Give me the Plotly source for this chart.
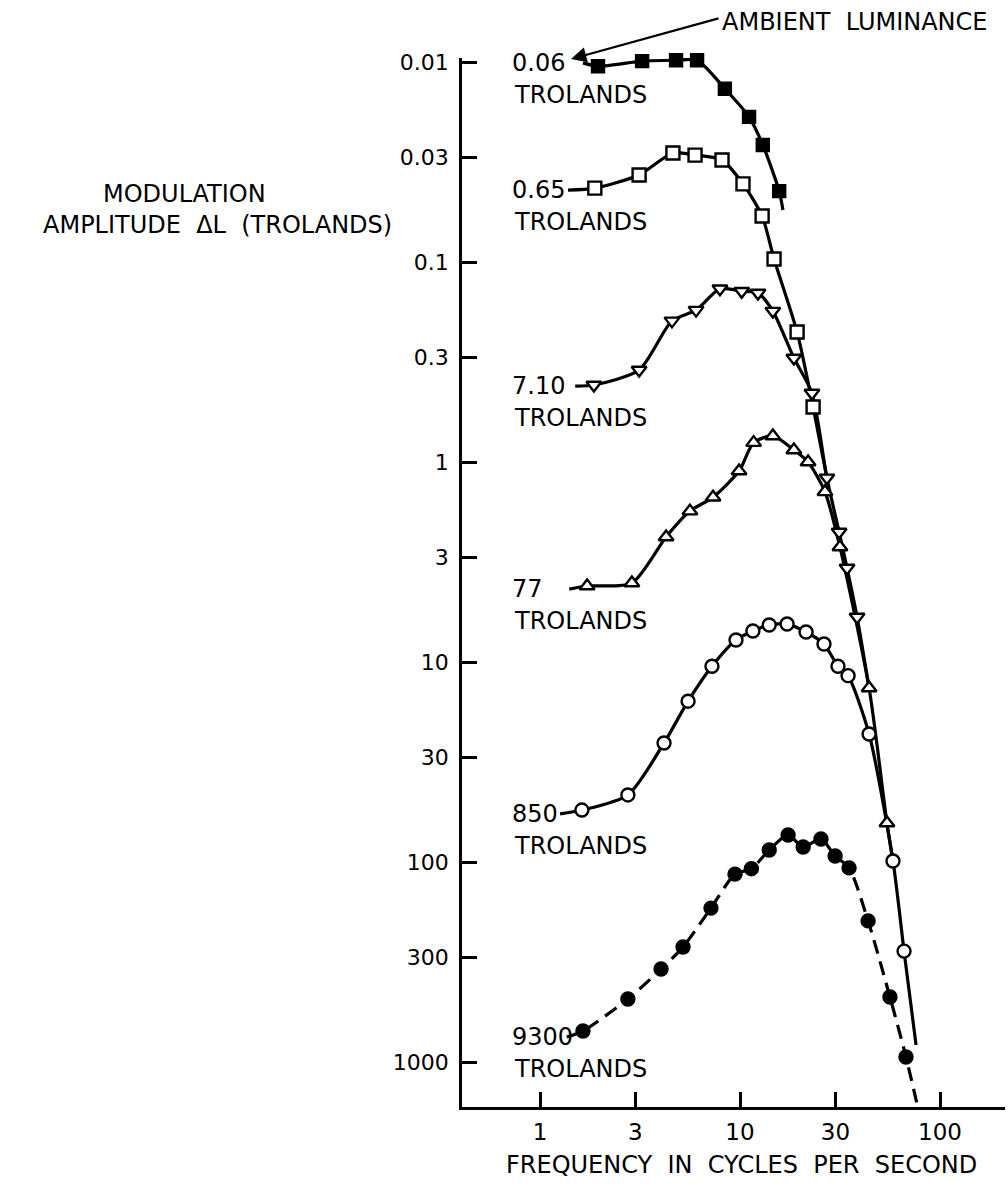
import math
import plotly.graph_objects as go

# ---------------- data ----------------
labels = ["0.06", "0.65", "7.10", "77", "850", "9300"]

freq_006 = [1.95, 3.24, 4.79, 6.1, 8.4, 11.1, 13.0, 15.7]
amp_006 = [0.0105, 0.0099, 0.0098, 0.0098, 0.0136, 0.0188, 0.026, 0.0442]

freq_065 = [1.88, 3.13, 4.62, 5.96, 8.13, 10.35, 12.9, 14.8, 19.3, 23.2]
amp_065 = [0.0427, 0.0367, 0.0285, 0.0292, 0.0309, 0.0407, 0.0589, 0.0966, 0.224, 0.531]

freq_710 = [1.86, 3.13, 4.57, 6.03, 7.94, 10.2, 12.3, 14.6, 18.6, 22.9, 27.2, 31.3, 34.3, 38.5]
amp_710 = [0.412, 0.347, 0.197, 0.174, 0.136, 0.140, 0.143, 0.176, 0.302, 0.452, 1.20, 2.24, 3.39, 5.96]

freq_77 = [1.72, 2.88, 4.27, 5.62, 7.33, 9.89, 11.7, 14.6, 18.6, 21.9, 26.6, 31.6, 44.2, 54.3]
amp_77 = [4.17, 4.03, 2.37, 1.76, 1.50, 1.11, 0.80, 0.741, 0.871, 1.0, 1.41, 2.66, 13.5, 63.8]

freq_850 = [1.62, 2.75, 4.17, 5.5, 7.24, 9.55, 11.6, 14.0, 17.2, 21.4, 26.3, 30.9, 34.7, 44.2, 58.2, 66.1]
amp_850 = [55, 46.2, 25.4, 15.7, 10.5, 7.76, 7.0, 6.53, 6.46, 7.08, 8.13, 10.5, 11.7, 22.9, 98.9, 279]

freq_9300 = [1.64, 2.75, 4.03, 5.19, 7.16, 9.44, 11.4, 14.0, 17.4, 20.7, 25.4, 29.9, 35.1, 43.7, 56.2, 67.6]
amp_9300 = [700, 484, 343, 266, 170, 115, 108, 87.1, 73.3, 84.1, 76.7, 93.3, 107, 197, 473, 944]

# where each drawn curve starts and ends (beyond the first/last point)
curve_start_freq = [1.64, 1.38, 1.50, 1.40, 1.26, 1.36]
curve_start_amp = [0.0101, 0.0437, 0.417, 4.32, 57.5, 750]
curve_end_freq = [16.4, 27.2, 44.2, 58.2, 75.9, 77.6]
curve_end_amp = [0.055, 1.20, 13.5, 99.0, 822, 1700]

x_ticks = [1, 3, 10, 30, 100]
y_ticks = [0.01, 0.03, 0.1, 0.3, 1, 3, 10, 30, 100, 300, 1000]
y_tick_text = ["0.01", "0.03", "0.1", "0.3", "1", "3", "10", "30", "100", "300", "1000"]

# ---------------- styling ----------------
FONT = "DejaVu Sans"
series = [
    (freq_006, amp_006, "square", "black", "solid", 12),
    (freq_065, amp_065, "square", "white", "solid", 13),
    (freq_710, amp_710, "triangle-down", "white", "solid", 13),
    (freq_77, amp_77, "triangle-up", "white", "solid", 13),
    (freq_850, amp_850, "circle", "white", "solid", 13),
    (freq_9300, amp_9300, "circle", "black", "14px,8px", 13),
]

fig = go.Figure()
for i, (fx, fy, sym, fill, dash, sz) in enumerate(series):
    xs = [curve_start_freq[i]] + fx + [curve_end_freq[i]]
    ys = [curve_start_amp[i]] + fy + [curve_end_amp[i]]
    fig.add_trace(go.Scatter(
        x=xs, y=ys, mode="lines",
        line=dict(color="black", width=3.2, shape="spline", smoothing=0.7, dash=dash),
        hoverinfo="skip", showlegend=False))
for i, (fx, fy, sym, fill, dash, sz) in enumerate(series):
    fig.add_trace(go.Scatter(
        x=fx, y=fy, mode="markers", cliponaxis=False,
        marker=dict(symbol=sym, size=sz, color=fill, line=dict(color="black", width=2.4)),
        showlegend=False))

# series labels, aligned with the start of each curve
for i, lab in enumerate(labels):
    ylog = math.log10(curve_start_amp[i])
    fig.add_annotation(xref="paper", x=0, xshift=48, xanchor="left",
                       yref="y", y=ylog, yanchor="middle",
                       text=lab, showarrow=False,
                       font=dict(family=FONT, size=24, color="black"))
    fig.add_annotation(xref="paper", x=0, xshift=50, xanchor="left",
                       yref="y", y=ylog, yshift=-32, yanchor="middle",
                       text="TROLANDS", showarrow=False,
                       font=dict(family=FONT, size=24, color="black"))

# ambient luminance arrow
fig.add_annotation(xref="x", yref="y", x=0.155, y=-2.015,
                   ax=149, ay=-41, text="", showarrow=True,
                   arrowhead=2, arrowsize=1.4, arrowwidth=2.2, arrowcolor="black")
fig.add_annotation(xref="paper", x=0, xshift=258, xanchor="left",
                   yref="paper", y=1, yshift=36, yanchor="middle",
                   text="AMBIENT  LUMINANCE", showarrow=False,
                   font=dict(family=FONT, size=24, color="black"))

# axis titles
fig.add_annotation(xref="paper", x=0, xshift=-278, xanchor="center",
                   yref="paper", y=1, yshift=-136, yanchor="middle",
                   text="MODULATION", showarrow=False,
                   font=dict(family=FONT, size=24, color="black"))
fig.add_annotation(xref="paper", x=0, xshift=-245, xanchor="center",
                   yref="paper", y=1, yshift=-167, yanchor="middle",
                   text="AMPLITUDE  \u0394L  (TROLANDS)", showarrow=False,
                   font=dict(family=FONT, size=24, color="black"))
fig.add_annotation(xref="x", x=1.005, xanchor="center",
                   yref="paper", y=0, yshift=-58, yanchor="middle",
                   text="FREQUENCY  IN  CYCLES  PER  SECOND", showarrow=False,
                   font=dict(family=FONT, size=24, color="black"))

fig.update_xaxes(type="log", range=[-0.39, 2.325],
                 tickvals=x_ticks, ticktext=[str(v) for v in x_ticks],
                 ticks="inside", ticklen=15, tickwidth=2.5, tickcolor="black",
                 showline=True, linewidth=2.5, linecolor="black",
                 showgrid=False, zeroline=False, ticklabelstandoff=3,
                 tickfont=dict(family=FONT, size=23, color="black"))
fig.update_yaxes(type="log", range=[3.225, -2.02],
                 tickvals=y_ticks, ticktext=y_tick_text,
                 ticks="inside", ticklen=15, tickwidth=2.5, tickcolor="black",
                 showline=True, linewidth=2.5, linecolor="black",
                 showgrid=False, zeroline=False, ticklabelstandoff=6,
                 tickfont=dict(family=FONT, size=22, color="black"))

fig.update_layout(width=1008, height=1184,
                  margin=dict(l=462, r=3, t=58, b=77),
                  paper_bgcolor="white", plot_bgcolor="white",
                  showlegend=False)

fig.write_html("out.html")
